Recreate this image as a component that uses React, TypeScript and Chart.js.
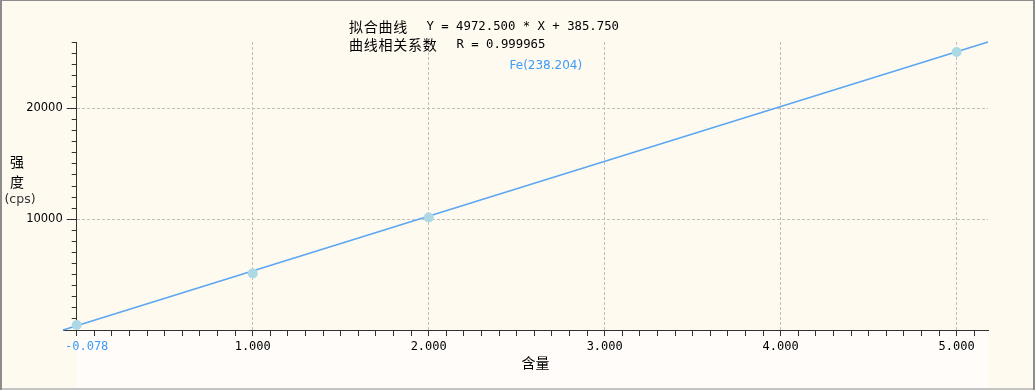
import React, { useEffect, useRef } from 'react';
import { Chart, registerables } from 'chart.js';

Chart.register(...registerables);

// ---- data ----
const concentrations = [0, 1, 2, 5];
const intensities = [450, 5110, 10160, 25100];
const fitLineX = [-0.078, 5.178];
const fitLineY = [0, 26000];

const xMin = -0.078;
const xMax = 5.178;
const yMin = 0;
const yMax = 26000;

const xMajorValues = [1, 2, 3, 4, 5];
const xTickLabels = ['1.000', '2.000', '3.000', '4.000', '5.000'];
const xMinLabel = '-0.078';
const xMinorCount = 51; // minor ticks every 0.1 from 0 to 5.1
const yMajorValues = [10000, 20000];
const yTickLabels = ['10000', '20000'];
const yMinorCount = 26; // minor ticks every 1000 from 0 to 26000

const seriesLabel = 'Fe(238.204)';
const fitTitle = '拟合曲线';
const fitEquation = 'Y = 4972.500 * X + 385.750';
const corrTitle = '曲线相关系数';
const corrText = 'R = 0.999965';
const xTitle = '含量';
const yTitleChars = ['强', '度'];
const yUnit = '(cps)';

// ---- styles ----
const CREAM = '#fefaf0';
const LIGHT = '#fffcf9';
const AXIS = '#333333';
const GRID = '#bfbfbf';
const LINE = '#5ba6f2';
const POINT = '#add8e6';
const BLUE = '#3d9cf5';
const CJK = '"Noto Sans CJK SC", sans-serif';
const MONO = '"DejaVu Sans Mono", monospace';
const SANS = '"DejaVu Sans", sans-serif';

const near = (a: number, b: number) => Math.abs(a - b) < 1e-6;

const decor = {
  id: 'decor',
  afterLayout(chart: any) {
    const xs = chart.scales.x;
    const x0 = xs.getPixelForValue(0);
    ['y', 'yMinor'].forEach((id) => {
      const s = chart.scales[id];
      const w = s.right - s.left;
      s.right = x0;
      s.left = x0 - w;
    });
    chart.chartArea.left = x0;
    chart.chartArea.width = chart.chartArea.right - x0;
  },
  beforeDraw(chart: any) {
    const { ctx, width, height, chartArea } = chart;
    const xs = chart.scales.x;
    ctx.save();
    ctx.fillStyle = CREAM;
    ctx.fillRect(0, 0, width, height);
    ctx.fillStyle = LIGHT;
    ctx.fillRect(chartArea.left, chartArea.bottom, xs.right - chartArea.left, height - 2 - chartArea.bottom);
    ctx.fillStyle = '#8c8c8c';
    ctx.fillRect(0, 0, width, 1);
    ctx.fillRect(0, 0, 2, height);
    ctx.fillRect(width - 2, 0, 2, height);
    ctx.fillStyle = '#c4c4c4';
    ctx.fillRect(2, height - 2, width - 4, 2);
    ctx.restore();
  },
  afterDraw(chart: any) {
    const { ctx, chartArea } = chart;
    const xs = chart.scales.x;
    ctx.save();
    ctx.textBaseline = 'middle';
    ctx.textAlign = 'left';
    ctx.fillStyle = '#000';
    // fit title
    ctx.font = '14px ' + CJK;
    (ctx as any).letterSpacing = '0.75px';
    ctx.fillText(fitTitle, 349, 26.5);
    ctx.fillText(corrTitle, 349, 44.5);
    (ctx as any).letterSpacing = '0px';
    ctx.font = '12.3px ' + MONO;
    ctx.fillText(fitEquation, 426.5, 26.5);
    ctx.fillText(corrText, 456.5, 44.5);
    // series label
    ctx.fillStyle = BLUE;
    ctx.font = '12px ' + SANS;
    ctx.fillText(seriesLabel, 509.5, 66);
    // min x label
    ctx.font = '12px ' + MONO;
    ctx.fillText(xMinLabel, xs.left + 2, 347);
    // y title
    ctx.fillStyle = '#000';
    ctx.textAlign = 'center';
    ctx.font = '14px ' + CJK;
    ctx.fillText(yTitleChars[0], 17, 161.5);
    ctx.fillText(yTitleChars[1], 17, 181.5);
    ctx.fillStyle = '#333';
    ctx.font = '12.5px ' + SANS;
    ctx.fillText(yUnit, 20, 200);
    // x title
    ctx.fillStyle = '#000';
    ctx.font = '14px ' + CJK;
    ctx.fillText(xTitle, 535.5, 362.5);
    ctx.restore();
  },
};

export default function App() {
  const ref = useRef<HTMLCanvasElement | null>(null);

  useEffect(() => {
    if (!ref.current) return;
    const chart = new Chart(ref.current, {
      type: 'scatter',
      data: {
        datasets: [
          {
            label: seriesLabel,
            data: concentrations.map((x, i) => ({ x, y: intensities[i] })),
            backgroundColor: POINT,
            borderColor: POINT,
            borderWidth: 0,
            pointRadius: 5,
            showLine: false,
            clip: false as any,
          },
          {
            label: 'fit',
            data: fitLineX.map((x, i) => ({ x, y: fitLineY[i] })),
            borderColor: LINE,
            backgroundColor: LINE,
            borderWidth: 1.5,
            pointRadius: 0,
            showLine: true,
            clip: false as any,
          },
        ],
      },
      plugins: [decor],
      options: {
        responsive: false,
        animation: false,
        devicePixelRatio: 1,
        layout: { padding: { top: 42, right: 47, left: 0, bottom: 0 } },
        plugins: {
          legend: { display: false },
          title: { display: false },
          tooltip: { enabled: false },
        },
        scales: {
          x: {
            type: 'linear',
            position: 'bottom',
            min: xMin,
            max: xMax,
            afterBuildTicks: (s: any) => {
              const t: any[] = [];
              for (let i = 0; i <= xMinorCount; i++) t.push({ value: i / 10 });
              s.ticks = t;
            },
            afterFit: (s: any) => {
              s.height = 60;
            },
            ticks: {
              autoSkip: false,
              maxRotation: 0,
              minRotation: 0,
              padding: 4,
              color: '#000',
              font: { family: MONO, size: 12 },
              callback: (v: any) => {
                const idx = xMajorValues.findIndex((m) => near(m, Number(v)));
                return idx >= 0 ? xTickLabels[idx] : '';
              },
            },
            grid: {
              drawOnChartArea: true,
              drawTicks: true,
              tickLength: 6,
              tickColor: AXIS,
              lineWidth: 1,
              color: (c: any) =>
                c.tick && xMajorValues.some((m) => near(m, c.tick.value)) ? GRID : 'rgba(0,0,0,0)',
            },
            border: { display: true, color: AXIS, width: 1, dash: [3, 2] },
          },
          y: {
            type: 'linear',
            position: 'left',
            min: yMin,
            max: yMax,
            afterBuildTicks: (s: any) => {
              s.ticks = yMajorValues.map((v) => ({ value: v }));
            },
            afterFit: (s: any) => {
              s.width = 63;
            },
            ticks: {
              autoSkip: false,
              padding: 4,
              color: '#000',
              font: { family: SANS, size: 11.5 },
              callback: (v: any) => {
                const idx = yMajorValues.findIndex((m) => near(m, Number(v)));
                return idx >= 0 ? yTickLabels[idx] : '';
              },
            },
            grid: {
              drawOnChartArea: true,
              drawTicks: true,
              tickLength: 10,
              tickColor: AXIS,
              color: GRID,
              lineWidth: 1,
            },
            border: { display: true, color: AXIS, width: 1, dash: [3, 2] },
          },
          yMinor: {
            type: 'linear',
            position: 'left',
            min: yMin,
            max: yMax,
            afterBuildTicks: (s: any) => {
              const t: any[] = [];
              for (let i = 0; i <= yMinorCount; i++) t.push({ value: i * 1000 });
              s.ticks = t;
            },
            afterFit: (s: any) => {
              s.width = 0;
            },
            ticks: { display: false, autoSkip: false },
            grid: {
              drawOnChartArea: false,
              drawTicks: true,
              tickLength: 5,
              tickColor: AXIS,
              color: 'rgba(0,0,0,0)',
            },
            border: { display: false },
          },
        },
      } as any,
    });
    return () => chart.destroy();
  }, []);

  return (
    <div style={{ position: 'absolute', left: 0, top: 0, width: 1035, height: 390 }}>
      <canvas ref={ref} width={1035} height={390} style={{ display: 'block', width: 1035, height: 390 }} />
    </div>
  );
}
